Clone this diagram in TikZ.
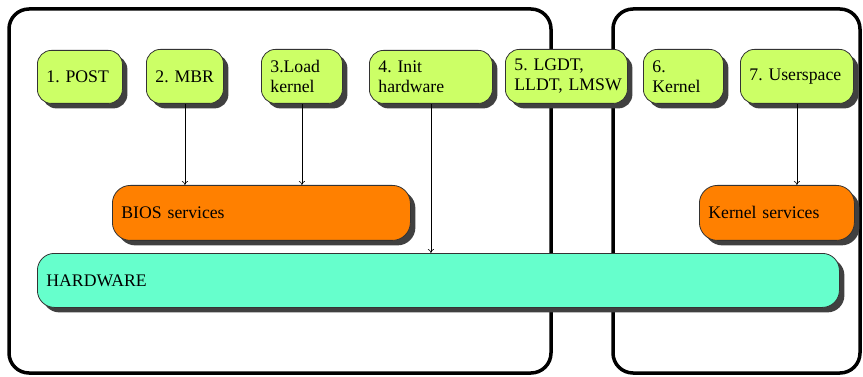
\documentclass[tikz,border=0pt]{standalone}
\usepackage{fontspec}
\setmainfont{Liberation Serif}
\usetikzlibrary{shadows,arrows.meta}
\definecolor{gfill}{HTML}{CCFF66}
\definecolor{ofill}{HTML}{FF8000}
\definecolor{hfill}{HTML}{66FFCC}
\tikzset{
  box/.style={draw=black!80, line width=0.8pt, anchor=north west, inner xsep=9pt, inner ysep=0pt,
    align=left, font=\fontsize{17.7}{20}\selectfont\frenchspacing,
    drop shadow={shadow xshift=5pt, shadow yshift=-5pt, fill=black!75, opacity=1}},
  gbox/.style={box, fill=gfill, rounded corners=14pt},
  obox/.style={box, fill=ofill, rounded corners=18pt},
  hbox/.style={box, fill=hfill, rounded corners=17pt},
  outer/.style={draw=black, line width=3.5pt, rounded corners=20pt},
  arr/.style={draw=black, line width=0.6pt, -{To[length=4pt,width=6pt]}}
}
\begin{document}
\begin{tikzpicture}[x=1pt,y=-1pt]
\useasboundingbox (0,0) rectangle (863,377);
\draw[outer] (9,9) rectangle (551,373);
\draw[outer] (613,9) rectangle (860,373);
\node[gbox, minimum width=85pt, text width=67pt, minimum height=53pt] (post) at (37,50) {1.~POST};
\node[gbox, minimum width=77pt, text width=59pt, minimum height=54pt] (mbr) at (146,49) {2.~MBR};
\node[gbox, minimum width=81pt, text width=63pt, minimum height=54pt] (load) at (261,49) {3.Load\\kernel};
\node[gbox, minimum width=123pt, text width=105pt, minimum height=53pt] (init) at (369,50) {4.~Init\\hardware};
\node[gbox, minimum width=122pt, text width=104pt, minimum height=54pt] (lgdt) at (505,49) {5.~LGDT,\\LLDT,~LMSW};
\node[gbox, minimum width=80pt, text width=62pt, minimum height=54pt] (kern) at (643,49) {6.\\Kernel};
\node[gbox, minimum width=113pt, text width=95pt, minimum height=54pt] (user) at (740,49) {7.~Userspace};
\node[obox, minimum width=298pt, text width=280pt, minimum height=55pt] (bios) at (112,185) {BIOS services};
\node[obox, minimum width=155pt, text width=137pt, minimum height=55pt] (ksrv) at (699,185) {Kernel services};
\node[hbox, minimum width=802pt, text width=784pt, minimum height=54pt] (hw) at (37,253) {HARDWARE};
\draw[arr] (mbr.south) -- (mbr.south |- bios.north);
\draw[arr] (load.south) -- (load.south |- bios.north);
\draw[arr] (init.south) -- (init.south |- hw.north);
\draw[arr] (user.south) -- (user.south |- ksrv.north);
\end{tikzpicture}
\end{document}
